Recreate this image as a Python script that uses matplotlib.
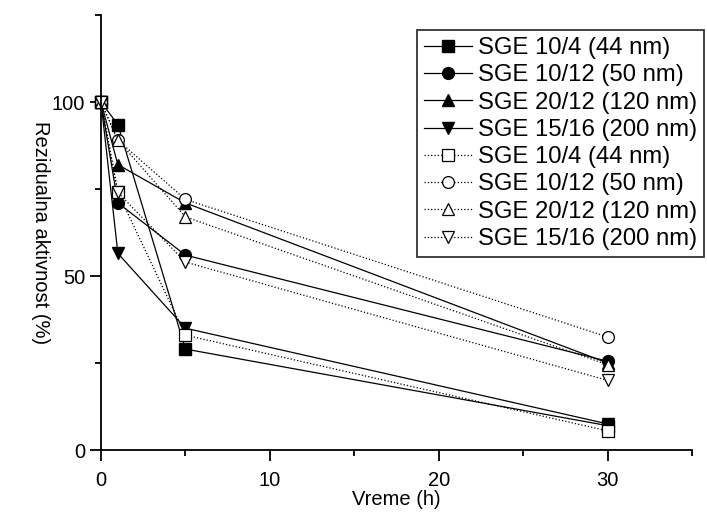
import matplotlib
matplotlib.use("Agg")
import matplotlib.pyplot as plt
from matplotlib.ticker import MultipleLocator

plt.rcParams['font.family'] = ['Liberation Sans', 'DejaVu Sans']

hours = [0, 1, 5, 30]
labels = ["SGE 10/4 (44 nm)", "SGE 10/12 (50 nm)", "SGE 20/12 (120 nm)", "SGE 15/16 (200 nm)"]
filled_10_4 = [100, 93.5, 29, 7]
filled_10_12 = [100, 71, 56, 25.5]
filled_20_12 = [100, 82, 71, 25]
filled_15_16 = [100, 56.5, 35, 7.5]
open_10_4 = [100, 74, 33, 5.5]
open_10_12 = [100, 89, 72, 32.5]
open_20_12 = [100, 89, 67, 24.5]
open_15_16 = [100, 74, 54, 20]

fig = plt.figure(figsize=(7.07, 5.18), dpi=100)
ax = fig.add_axes([101/707, 1-450/518, (692-101)/707, (450-15)/518])

markers = ['s', 'o', '^', 'v']
filled = [filled_10_4, filled_10_12, filled_20_12, filled_15_16]
opens = [open_10_4, open_10_12, open_20_12, open_15_16]

for m, vals, lab in zip(markers, filled, labels):
    ax.plot(hours, vals, '-', color='black', lw=0.9, marker=m, ms=8.5,
            mfc='black', mec='black', label=lab, clip_on=False)
for m, vals, lab in zip(markers, opens, labels):
    ax.plot(hours, vals, ':', color='black', lw=0.9, marker=m, ms=8.5,
            mfc='white', mec='black', mew=0.9, label=lab, clip_on=False)

ax.set_xlim(0, 35)
ax.set_ylim(0, 125)
ax.set_xticks([0, 10, 20, 30])
ax.set_yticks([0, 50, 100])
ax.xaxis.set_minor_locator(MultipleLocator(5))
ax.yaxis.set_minor_locator(MultipleLocator(25))
ax.spines['top'].set_visible(False)
ax.spines['right'].set_visible(False)
for s in ['left', 'bottom']:
    ax.spines[s].set_linewidth(1.3)
ax.tick_params(which='major', direction='out', length=8, width=1.3, labelsize=14.5)
ax.tick_params(axis='x', which='major', pad=7)
ax.tick_params(which='minor', direction='out', length=4, width=1.3)
ax.set_xlabel("Vreme (h)", fontsize=14.5, labelpad=0)
ax.set_ylabel("Rezidualna aktivnost (%)", fontsize=14.5, labelpad=8, rotation=-90,
              va='center')

leg = fig.legend(loc='upper left', bbox_to_anchor=(417/707, 1-30/518), fontsize=17.2,
                 frameon=True, fancybox=False, edgecolor='black', borderaxespad=0,
                 handlelength=2.0, handletextpad=0.25, labelspacing=0.22, borderpad=0.3)
leg.get_frame().set_linewidth(1.3)

fig.savefig("out.png", dpi=100)
